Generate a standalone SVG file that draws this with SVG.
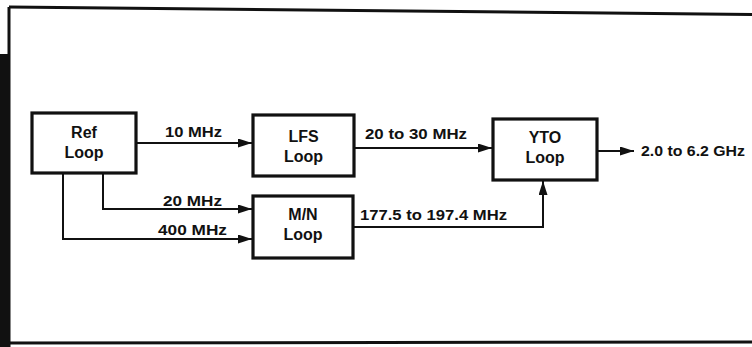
<svg xmlns="http://www.w3.org/2000/svg" width="752" height="347" viewBox="0 0 752 347">
  <defs>
    <marker id="ah" viewBox="0 0 14 9" refX="14" refY="4.5" markerWidth="14" markerHeight="9" markerUnits="userSpaceOnUse" orient="auto">
      <path d="M0,0 L14,4.5 L0,9 Z" fill="#111"/>
    </marker>
    <style>
      .box { fill: #fff; stroke: #111; stroke-width: 3.2; }
      .bl { font-family: "Liberation Sans", Arial, sans-serif; font-weight: bold; font-size: 16px; fill: #111; text-anchor: middle; }
      .lab { font-family: "Liberation Sans", Arial, sans-serif; font-weight: bold; font-size: 15.5px; fill: #111; }
      .wire { fill: none; stroke: #111; stroke-width: 2; marker-end: url(#ah); }
      .frame { fill: none; stroke: #111; stroke-width: 3; }
    </style>
  </defs>
  <rect width="752" height="347" fill="#fff"/>
  <g id="frame">
    <line class="frame" x1="9" y1="7" x2="752" y2="14.5"/>
    <line class="frame" x1="9" y1="7" x2="9" y2="347"/>
    <line class="frame" x1="0" y1="343" x2="752" y2="342"/>
    <rect x="0" y="54" width="9" height="293" fill="#111"/>
  </g>
  <g id="connectors">
    <line class="wire" x1="136" y1="143" x2="252" y2="143"/>
    <line class="wire" x1="354" y1="148" x2="492" y2="148"/>
    <line class="wire" x1="597" y1="151" x2="634" y2="151"/>
    <polyline class="wire" points="103,173 103,209 252,209"/>
    <polyline class="wire" points="63,173 63,239 252,239"/>
    <polyline class="wire" points="353,227 543,227 543,181"/>
    <text class="lab" x="165" y="137" textLength="57" lengthAdjust="spacingAndGlyphs">10 MHz</text>
    <text class="lab" x="163" y="206" textLength="59" lengthAdjust="spacingAndGlyphs">20 MHz</text>
    <text class="lab" x="158" y="235" textLength="69" lengthAdjust="spacingAndGlyphs">400 MHz</text>
    <text class="lab" x="365" y="139" textLength="102" lengthAdjust="spacingAndGlyphs">20 to 30 MHz</text>
    <text class="lab" x="360" y="220" textLength="147" lengthAdjust="spacingAndGlyphs">177.5 to 197.4 MHz</text>
    <text class="lab" x="641" y="156" font-size="16" textLength="104" lengthAdjust="spacingAndGlyphs">2.0 to 6.2 GHz</text>
  </g>
  <g id="ref-loop">
    <rect class="box" x="32" y="113" width="104" height="60"/>
    <text class="bl" x="84" y="138">Ref</text>
    <text class="bl" x="84" y="158">Loop</text>
  </g>
  <g id="lfs-loop">
    <rect class="box" x="253" y="115" width="101" height="61"/>
    <text class="bl" x="303.5" y="142">LFS</text>
    <text class="bl" x="303.5" y="162">Loop</text>
  </g>
  <g id="mn-loop">
    <rect class="box" x="253" y="196" width="100" height="62"/>
    <text class="bl" x="303" y="220">M/N</text>
    <text class="bl" x="303" y="240">Loop</text>
  </g>
  <g id="yto-loop">
    <rect class="box" x="493" y="119" width="104" height="61"/>
    <text class="bl" x="545" y="143">YTO</text>
    <text class="bl" x="545" y="163">Loop</text>
  </g>
</svg>
